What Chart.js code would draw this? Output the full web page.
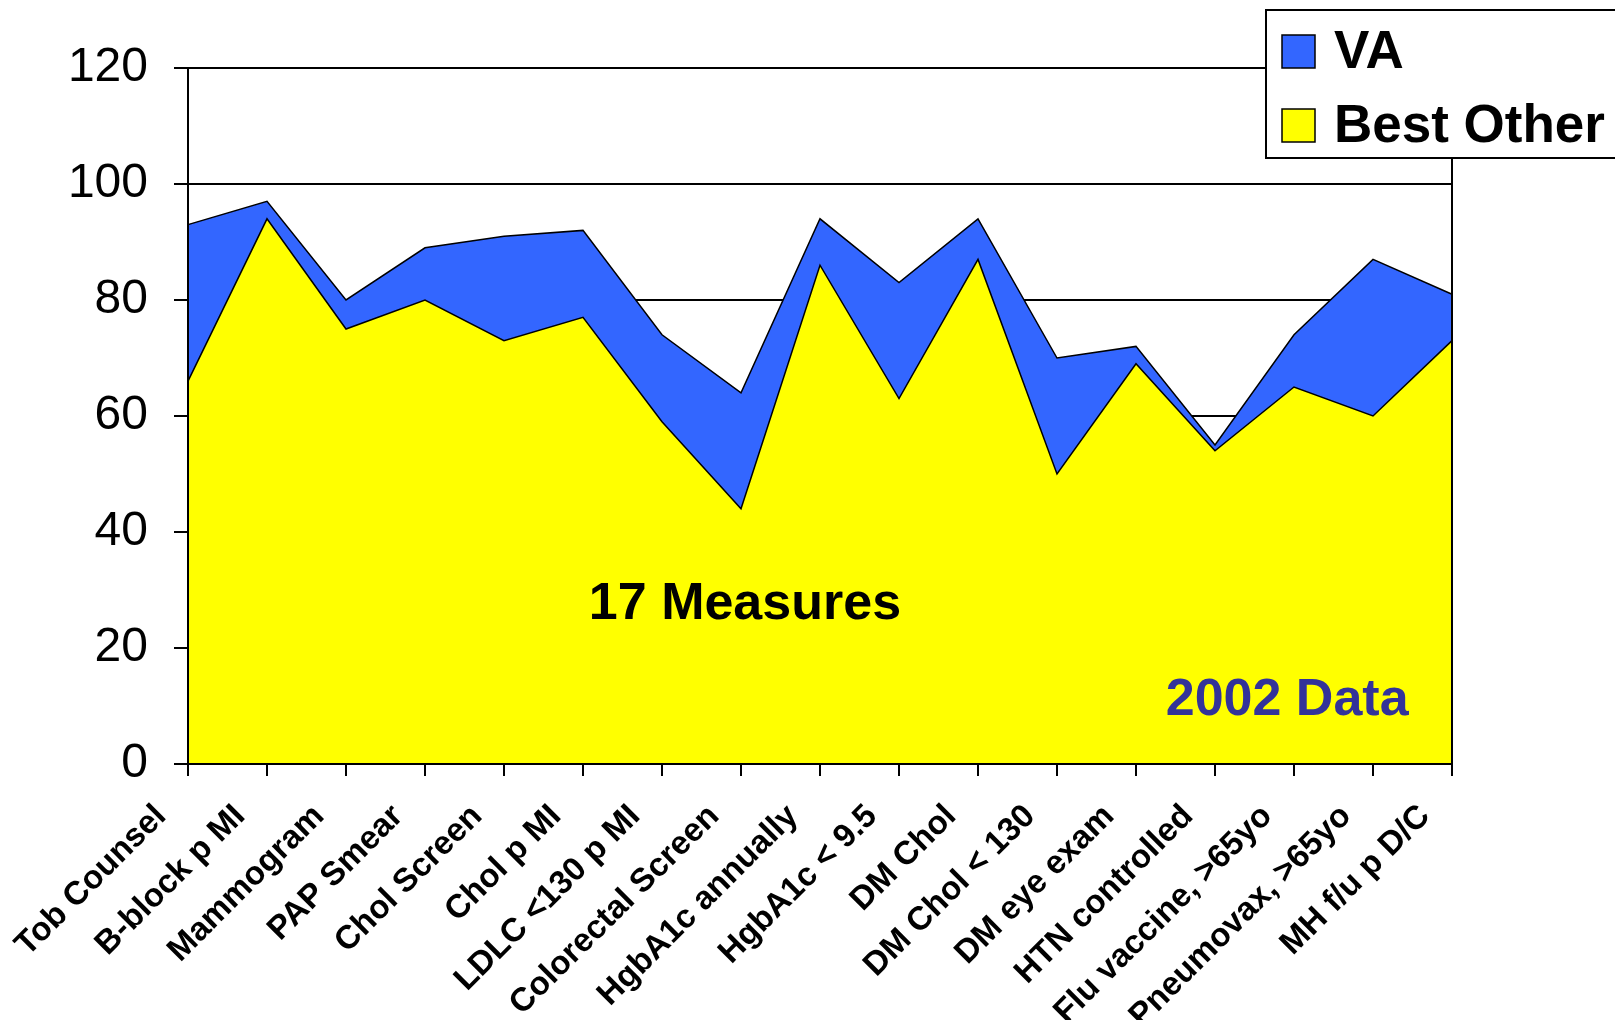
<!DOCTYPE html>
<html><head><meta charset="utf-8">
<script src="https://cdn.jsdelivr.net/npm/chart.js@4/dist/chart.umd.min.js"></script>
<style>html,body{margin:0;padding:0;background:#fff;overflow:hidden}#wrap{width:1615px;height:1020px;position:relative}</style>
</head><body><div id="wrap"><canvas id="c" width="1615" height="1020"></canvas></div>
<script>
const categories = ['Tob Counsel','B-block p MI','Mammogram','PAP Smear','Chol Screen','Chol p MI','LDLC <130 p MI','Colorectal Screen','HgbA1c annually','HgbA1c < 9.5','DM Chol','DM Chol < 130','DM eye exam','HTN controlled','Flu vaccine, >65yo','Pneumovax, >65yo','MH f/u p D/C'];
const vaValues = [93,97,80,89,91,92,74,64,94,83,94,70,72,55,74,87,81];
const bestOtherValues = [66,94,75,80,73,77,59,44,86,63,87,50,69,54,65,60,73];
const seriesNames = ['VA','Best Other'];
const seriesColors = ['#3366FF','#FFFF00'];
const yMin = 0, yMax = 120, yStep = 20;
const noteMain = '17 Measures';
const noteYear = '2002 Data';

const FONT = "'Liberation Sans', Arial, sans-serif";

const framePlugin = {
  id: 'frame',
  afterDatasetsDraw(chart) {
    const {ctx, chartArea: a, scales} = chart;
    ctx.save();
    ctx.strokeStyle = '#000';
    ctx.lineWidth = 2;
    ctx.strokeRect(a.left, a.top, a.right - a.left, a.bottom - a.top);
    ctx.textBaseline = 'middle';
    ctx.fillStyle = '#000';
    ctx.font = 'bold 52px ' + FONT;
    ctx.textAlign = 'center';
    ctx.fillText(noteMain, scales.x.getPixelForValue(7.05), scales.y.getPixelForValue(27.5));
    ctx.fillStyle = '#333399';
    ctx.textAlign = 'right';
    ctx.fillText(noteYear, scales.x.getPixelForValue(15.45), scales.y.getPixelForValue(11));
    ctx.restore();
  },
  afterDraw(chart) {
    const {ctx} = chart;
    ctx.save();
    const bx = 1266, by = 10, bw = 420, bh = 148;
    ctx.fillStyle = '#fff';
    ctx.fillRect(bx, by, bw, bh);
    ctx.strokeStyle = '#000';
    ctx.lineWidth = 2;
    ctx.strokeRect(bx, by, bw, bh);
    const rows = [51, 125];
    chart.data.datasets.forEach((ds, i) => {
      const cy = rows[i];
      ctx.fillStyle = ds.backgroundColor;
      ctx.fillRect(1282, cy - 16, 33, 33);
      ctx.lineWidth = 1.5;
      ctx.strokeStyle = '#000';
      ctx.strokeRect(1282, cy - 16, 33, 33);
      ctx.fillStyle = '#000';
      ctx.font = 'bold 53px ' + FONT;
      ctx.textAlign = 'left';
      ctx.textBaseline = 'middle';
      ctx.fillText(ds.label, 1334, cy + 2);
    });
    ctx.restore();
  }
};

new Chart(document.getElementById('c'), {
  type: 'line',
  data: {
    labels: categories,
    datasets: [
      { label: seriesNames[0], data: vaValues, backgroundColor: seriesColors[0], borderColor: '#000', borderWidth: 1.5, fill: 'origin', pointRadius: 0, tension: 0, order: 1 },
      { label: seriesNames[1], data: bestOtherValues, backgroundColor: seriesColors[1], borderColor: '#000', borderWidth: 1.5, fill: 'origin', pointRadius: 0, tension: 0, order: 0 }
    ]
  },
  options: {
    responsive: false,
    animation: false,
    devicePixelRatio: 1,
    layout: { padding: { left: 0, top: 68, right: 163, bottom: 0 } },
    plugins: { legend: { display: false }, tooltip: { enabled: false } },
    scales: {
      x: {
        offset: false,
        grid: { drawOnChartArea: false, drawTicks: true, tickLength: 12, color: '#000', lineWidth: 2 },
        border: { color: '#000', width: 2 },
        ticks: { color: '#000', font: { family: FONT, size: 33, weight: 'bold' }, minRotation: 45, maxRotation: 45, autoSkip: false, padding: 21, labelOffset: -27 },
        afterFit(s) { s.height = 256; }
      },
      y: {
        min: yMin, max: yMax,
        grid: { color: '#000', lineWidth: 2, tickLength: 14 },
        border: { color: '#000', width: 2 },
        ticks: { stepSize: yStep, color: '#000', font: { family: FONT, size: 48 }, padding: 26 },
        afterFit(s) { s.width = 188; }
      }
    }
  },
  plugins: [framePlugin]
});
</script></body></html>
